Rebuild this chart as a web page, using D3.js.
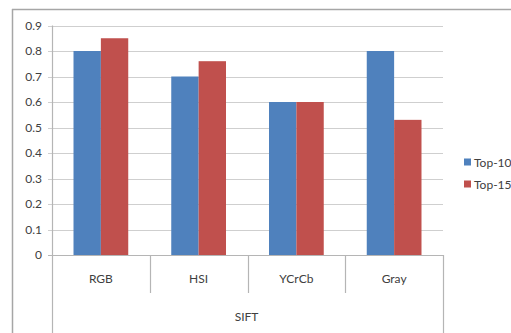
<!DOCTYPE html>
<html>
<head>
<meta charset="utf-8">
<script src="https://cdn.jsdelivr.net/npm/d3@7/dist/d3.min.js"></script>
<style>
  html, body { margin: 0; padding: 0; background: #fff; }
  svg { display: block; }
  text { font-family: Lato, "Open Sans", sans-serif; fill: #404040; }
</style>
</head>
<body>
<svg id="chart" width="511" height="333"></svg>
<script>
// Data
const categories = ["RGB", "HSI", "YCrCb", "Gray"];
const groupLabel = "SIFT";
const seriesNames = ["Top-10", "Top-15"];
const top10 = [0.8, 0.7, 0.6, 0.8];
const top15 = [0.85, 0.76, 0.6, 0.53];
const yTicks = [0, 0.1, 0.2, 0.3, 0.4, 0.5, 0.6, 0.7, 0.8, 0.9];
const colors = ["#4F81BD", "#C0504D"];

const svg = d3.select("#chart");
const W = 511, H = 333;
const plot = { left: 52, right: 443, top: 25.5, bottom: 255 };

// Outer frame (top and left edges)
svg.append("line").attr("x1", 12).attr("x2", W).attr("y1", 9.5).attr("y2", 9.5)
  .attr("stroke", "#a6a6a6").attr("stroke-width", 1.5);
svg.append("line").attr("x1", 12.5).attr("x2", 12.5).attr("y1", 9).attr("y2", H)
  .attr("stroke", "#a6a6a6").attr("stroke-width", 1.5);

const x = d3.scaleBand().domain(categories).range([plot.left, plot.right]).paddingInner(0).paddingOuter(0);
const y = d3.scaleLinear().domain([0, 0.9]).range([plot.bottom, plot.top]);

// Gridlines
svg.append("g").selectAll("line").data(yTicks.filter(d => d > 0)).join("line")
  .attr("x1", plot.left - 4).attr("x2", plot.right)
  .attr("y1", d => Math.round(y(d)) + 0.5).attr("y2", d => Math.round(y(d)) + 0.5)
  .attr("stroke", "#cfcfcf").attr("stroke-width", 1.2);

// Y axis labels
const yAxis = d3.axisLeft(y).tickValues(yTicks).tickFormat(d => d === 0 ? "0" : d3.format(".1f")(d)).tickSize(0).tickPadding(10);
const ya = svg.append("g").attr("transform", `translate(${plot.left},0)`).call(yAxis);
ya.select(".domain").remove();
ya.selectAll("text").attr("font-size", 12).style("font-family", "Lato, 'Open Sans', sans-serif").attr("fill", "#404040");

// Bars
const bandW = x.bandwidth();
const barW = bandW * 0.28;
const gapPad = (bandW - 2 * barW) / 2;
const series = [top10, top15];
series.forEach((vals, si) => {
  svg.append("g").selectAll("rect").data(vals).join("rect")
    .attr("x", (d, i) => x(categories[i]) + gapPad + si * barW)
    .attr("y", d => y(d))
    .attr("width", barW)
    .attr("height", d => y(0) - y(d))
    .attr("fill", colors[si]);
});

// Axis lines
const axisColor = "#b5b5b5";
svg.append("line").attr("x1", plot.left - 4).attr("x2", plot.right).attr("y1", plot.bottom + 0.5).attr("y2", plot.bottom + 0.5)
  .attr("stroke", axisColor).attr("stroke-width", 1.2);
svg.append("line").attr("x1", plot.left + 0.5).attr("x2", plot.left + 0.5).attr("y1", plot.top).attr("y2", H)
  .attr("stroke", axisColor).attr("stroke-width", 1.2);
svg.append("line").attr("x1", plot.right + 0.5).attr("x2", plot.right + 0.5).attr("y1", plot.bottom).attr("y2", H)
  .attr("stroke", axisColor).attr("stroke-width", 1.2);

// Category separators
svg.append("g").selectAll("line").data(categories.slice(1)).join("line")
  .attr("x1", d => Math.round(x(d)) + 0.5).attr("x2", d => Math.round(x(d)) + 0.5)
  .attr("y1", plot.bottom).attr("y2", 293)
  .attr("stroke", axisColor).attr("stroke-width", 1.2);

// Category labels
svg.append("g").selectAll("text").data(categories).join("text")
  .attr("x", d => x(d) + bandW / 2).attr("y", 282.5)
  .attr("text-anchor", "middle").attr("font-size", 12).text(d => d);

// Group label
svg.append("text").attr("x", (plot.left + plot.right) / 2 - 1).attr("y", 321)
  .attr("text-anchor", "middle").attr("font-size", 12).text(groupLabel);

// Legend
const lg = svg.append("g");
seriesNames.forEach((name, i) => {
  const cy = 162 + i * 22;
  lg.append("rect").attr("x", 464).attr("y", cy - 3.5).attr("width", 7).attr("height", 7).attr("fill", colors[i]);
  lg.append("text").attr("x", 474).attr("y", cy + 4.5).attr("font-size", 12).text(name);
});
</script>
</body>
</html>
